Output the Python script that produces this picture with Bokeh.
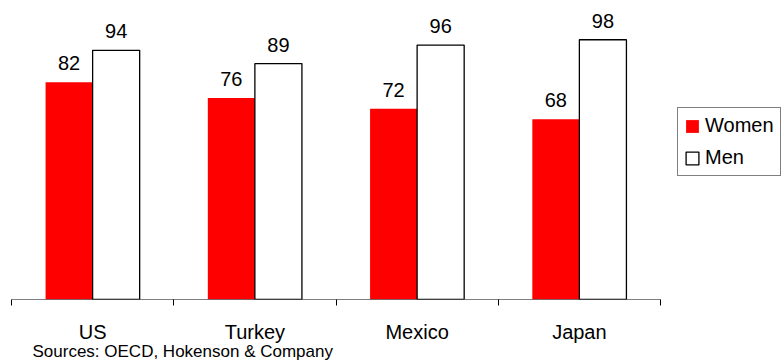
from bokeh.plotting import figure
from bokeh.models import (ColumnDataSource, Range1d, FixedTicker, Legend, LegendItem,
                          Title)
from bokeh.transform import dodge
from bokeh.core.properties import value
from bokeh.embed import file_html
from bokeh.resources import INLINE

# Data
countries = ["US", "Turkey", "Mexico", "Japan"]
women = [82, 76, 72, 68]
men = [94, 89, 96, 98]
source_note = "Sources: OECD, Hokenson & Company"

FONT = "Liberation Sans"

n = len(countries)
pos = [i + 0.5 for i in range(n)]
src = ColumnDataSource(data=dict(
    pos=pos,
    country=countries,
    women=women,
    men=men,
    women_txt=[str(v) for v in women],
    men_txt=[str(v) for v in men],
))

# the frame runs to the right edge so the legend can sit beside the bars
x_end = n * 773 / 649
p = figure(width=784, height=362, output_backend="svg", toolbar_location=None,
           x_range=Range1d(0, x_end), y_range=Range1d(0, 112.8),
           y_axis_location=None,
           min_border_left=11, min_border_right=0, min_border_top=0,
           min_border_bottom=63)
p.outline_line_color = None
p.xgrid.grid_line_color = None
p.ygrid.grid_line_color = None
p.background_fill_color = "white"
p.border_fill_color = "white"

bar_w = 0.29
half = bar_w / 2

r_women = p.vbar(x=dodge("pos", -half), top="women", width=bar_w, source=src,
                 fill_color="#FF0000", line_color=None)
r_men = p.vbar(x=dodge("pos", half), top="men", width=bar_w, source=src,
               fill_color="white", line_color="black", line_width=1.3)

# category baseline, only under the four groups
p.segment(x0=[0], y0=[0], x1=[n], y1=[0], line_color="black", line_width=1)

# value labels above each bar
for col, txt, off in (("women", "women_txt", -half), ("men", "men_txt", half)):
    p.text(x=dodge("pos", off), y=col, text=txt, source=src,
           text_font=value(FONT), text_font_size="20px", text_color="black",
           text_align="center", text_baseline="alphabetic", y_offset=-19)

# x axis: country names centred, small ticks on category boundaries
ax = p.xaxis[0]
ax.ticker = FixedTicker(ticks=pos, minor_ticks=list(range(n + 1)))
ax.major_label_overrides = {p_: c for p_, c in zip(pos, countries)}
ax.major_tick_out = 0
ax.major_tick_in = 0
ax.minor_tick_out = 6
ax.minor_tick_in = 0
ax.minor_tick_line_color = "black"
ax.axis_line_color = None
ax.major_label_standoff = 15
ax.major_label_text_font = FONT
ax.major_label_text_font_size = "20px"
ax.major_label_text_color = "black"

# source line under the axis
note = Title(text=source_note, align="left", vertical_align="top", offset=21,
             standoff=-7, text_font=FONT, text_font_size="17px",
             text_font_style="normal", text_color="black")
p.add_layout(note, "below")

legend = Legend(items=[LegendItem(label="Women", renderers=[r_women]),
                       LegendItem(label="Men", renderers=[r_men])],
                location=(666, 123))
legend.label_text_font = FONT
legend.label_text_font_size = "20px"
legend.label_text_color = "black"
legend.glyph_width = 16
legend.glyph_height = 16
legend.label_height = 20
legend.label_standoff = 5
legend.spacing = 9
legend.padding = 6
legend.margin = 0
legend.border_line_color = "black"
legend.border_line_width = 1
legend.background_fill_alpha = 1
p.add_layout(legend, "center")

open("out.html", "w").write(file_html(p, INLINE))
